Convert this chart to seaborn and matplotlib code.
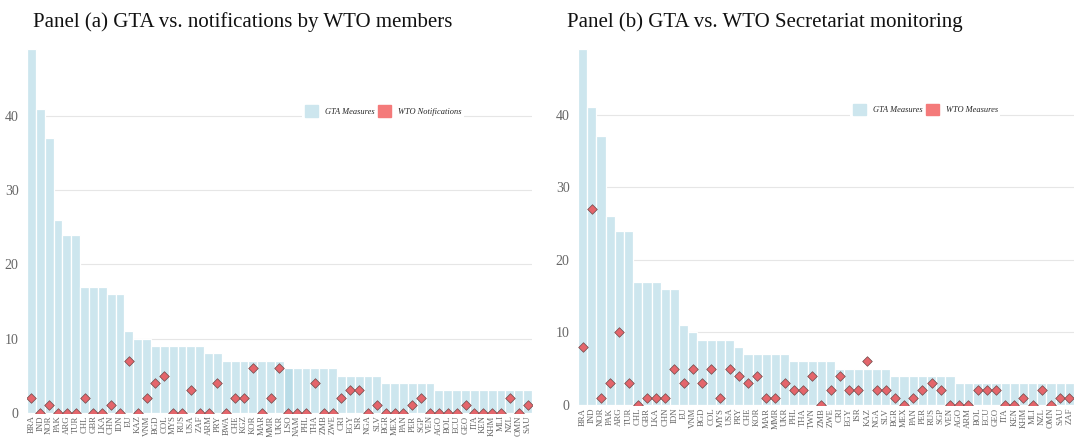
import matplotlib
matplotlib.use("Agg")
import matplotlib.pyplot as plt
import matplotlib.patches as mpatches
import seaborn as sns
import pandas as pd

# Panel (a): GTA measures vs. notifications by WTO members
countries_a = ["BRA", "IND", "NOR", "PAK", "ARG", "TUR", "CHL", "GBR", "LKA", "CHN",
               "IDN", "EU", "KAZ", "VNM", "BGD", "COL", "MYS", "RUS", "USA", "ZAF",
               "ARM", "PRY", "BWA", "CHE", "KGZ", "KOR", "MAR", "MMR", "UKR", "LSO",
               "NAM", "PHL", "THA", "ZMB", "ZWE", "CRI", "EGY", "ISR", "NGA", "SLV",
               "BGR", "MEX", "PAN", "PER", "SGP", "VEN", "AGO", "BOL", "ECU", "GEO",
               "ITA", "KEN", "KHM", "MLI", "NZL", "OMN", "SAU"]
gta_a = [49, 41, 37, 26, 24, 24, 17, 17, 17, 16,
         16, 11, 10, 10, 9, 9, 9, 9, 9, 9,
         8, 8, 7, 7, 7, 7, 7, 7, 7, 6,
         6, 6, 6, 6, 6, 5, 5, 5, 5, 5,
         4, 4, 4, 4, 4, 4, 3, 3, 3, 3,
         3, 3, 3, 3, 3, 3, 3]
wto_a = [2, 0, 1, 0, 0, 0, 2, 0, 0, 1,
         0, 7, 0, 2, 4, 5, 0, 0, 3, 0,
         0, 4, 0, 2, 2, 6, 0, 2, 6, 0,
         0, 0, 4, 0, 0, 2, 3, 3, 0, 1,
         0, 0, 0, 1, 2, 0, 0, 0, 0, 1,
         0, 0, 0, 0, 2, 0, 1]

# Panel (b): GTA measures vs. WTO Secretariat monitoring
countries_b = ["BRA", "IND", "NOR", "PAK", "ARG", "TUR", "CHL", "GBR", "LKA", "CHN",
               "IDN", "EU", "VNM", "BGD", "COL", "MYS", "USA", "PRY", "CHE", "KOR",
               "MAR", "MMR", "UKR", "PHL", "THA", "TWN", "ZMB", "ZWE", "CRI", "EGY",
               "ISR", "KAZ", "NGA", "SLV", "BGR", "MEX", "PAN", "PER", "RUS", "SGP",
               "VEN", "AGO", "ARM", "BOL", "ECU", "GEO", "ITA", "KEN", "KHM", "MLI",
               "NZL", "OMN", "SAU", "ZAF"]
gta_b = [49, 41, 37, 26, 24, 24, 17, 17, 17, 16,
         16, 11, 10, 9, 9, 9, 9, 8, 7, 7,
         7, 7, 7, 6, 6, 6, 6, 6, 5, 5,
         5, 5, 5, 5, 4, 4, 4, 4, 4, 4,
         4, 3, 3, 3, 3, 3, 3, 3, 3, 3,
         3, 3, 3, 3]
wto_b = [8, 27, 1, 3, 10, 3, 0, 1, 1, 1,
         5, 3, 5, 3, 5, 1, 5, 4, 3, 4,
         1, 1, 3, 2, 2, 4, 0, 2, 4, 2,
         2, 6, 2, 2, 1, 0, 1, 2, 3, 2,
         0, 0, 0, 2, 2, 2, 0, 0, 1, 0,
         2, 0, 1, 1]

BAR_COLOR = "#cde6ee"
DIAMOND_COLOR = "#e4656b"
LEGEND_RED = "#f47a7a"
TEXT_GRAY = "#666666"
SERIF = ["Liberation Serif", "DejaVu Serif"]

sns.set_theme(style="white")
plt.rcParams["font.family"] = SERIF


def draw_panel(ax, countries, gta, wto, wto_label, legend_x, highlight=None):
    df = pd.DataFrame({"country": countries, "gta": gta, "wto": wto})
    sns.barplot(data=df, x="country", y="gta", color=BAR_COLOR, width=1.0,
                edgecolor="white", linewidth=0.9, saturation=1, ax=ax, zorder=2)
    if highlight is not None:
        ax.patches[countries.index(highlight)].set_facecolor("#b9dce7")
    sns.scatterplot(data=df, x="country", y="wto", marker="D", s=24,
                    color=DIAMOND_COLOR, edgecolor="#6e4a4a", linewidth=0.5,
                    ax=ax, zorder=3)

    ax.set_xlim(-0.5, len(countries) - 0.5)
    ax.set_ylim(0, 49)
    ax.set_yticks([0, 10, 20, 30, 40])
    ax.yaxis.grid(True, color="#e6e6e6", linewidth=0.8, zorder=0)
    ax.set_axisbelow(True)
    sns.despine(ax=ax, left=True, bottom=True)
    ax.set_xlabel("")
    ax.set_ylabel("")
    ax.tick_params(axis="y", length=0, pad=6, labelsize=10, labelcolor=TEXT_GRAY)
    ax.tick_params(axis="x", length=0, pad=2, labelsize=6.3, labelcolor=TEXT_GRAY,
                   labelrotation=90)

    handles = [mpatches.Patch(color=BAR_COLOR, label="GTA Measures"),
               mpatches.Patch(color=LEGEND_RED, label=wto_label)]
    leg = ax.legend(handles=handles, ncol=2, loc="center",
                    bbox_to_anchor=(legend_x, 0.83), frameon=True,
                    facecolor="white", edgecolor="none", framealpha=1,
                    prop={"family": SERIF, "style": "italic", "size": 6},
                    handlelength=1.6, handleheight=1.7, handletextpad=0.8,
                    columnspacing=0.4, borderpad=0.3)
    leg.set_zorder(5)


fig = plt.figure(figsize=(10.74, 4.37), dpi=100)
ax_a = fig.add_axes([0.0251, 0.0556, 0.4702, 0.8316])
ax_b = fig.add_axes([0.5382, 0.0732, 0.4618, 0.8140])

draw_panel(ax_a, countries_a, gta_a, wto_a, "WTO Notifications", 0.705, highlight="LSO")
draw_panel(ax_b, countries_b, gta_b, wto_b, "WTO Measures", 0.70)

fig.text(33 / 1074, 0.938, "Panel (a) GTA vs. notifications by WTO members",
         fontsize=15, va="baseline", ha="left", color="#111111")
fig.text(567 / 1074, 0.938, "Panel (b) GTA vs. WTO Secretariat monitoring",
         fontsize=15, va="baseline", ha="left", color="#111111")

fig.savefig("out.png", dpi=100)
